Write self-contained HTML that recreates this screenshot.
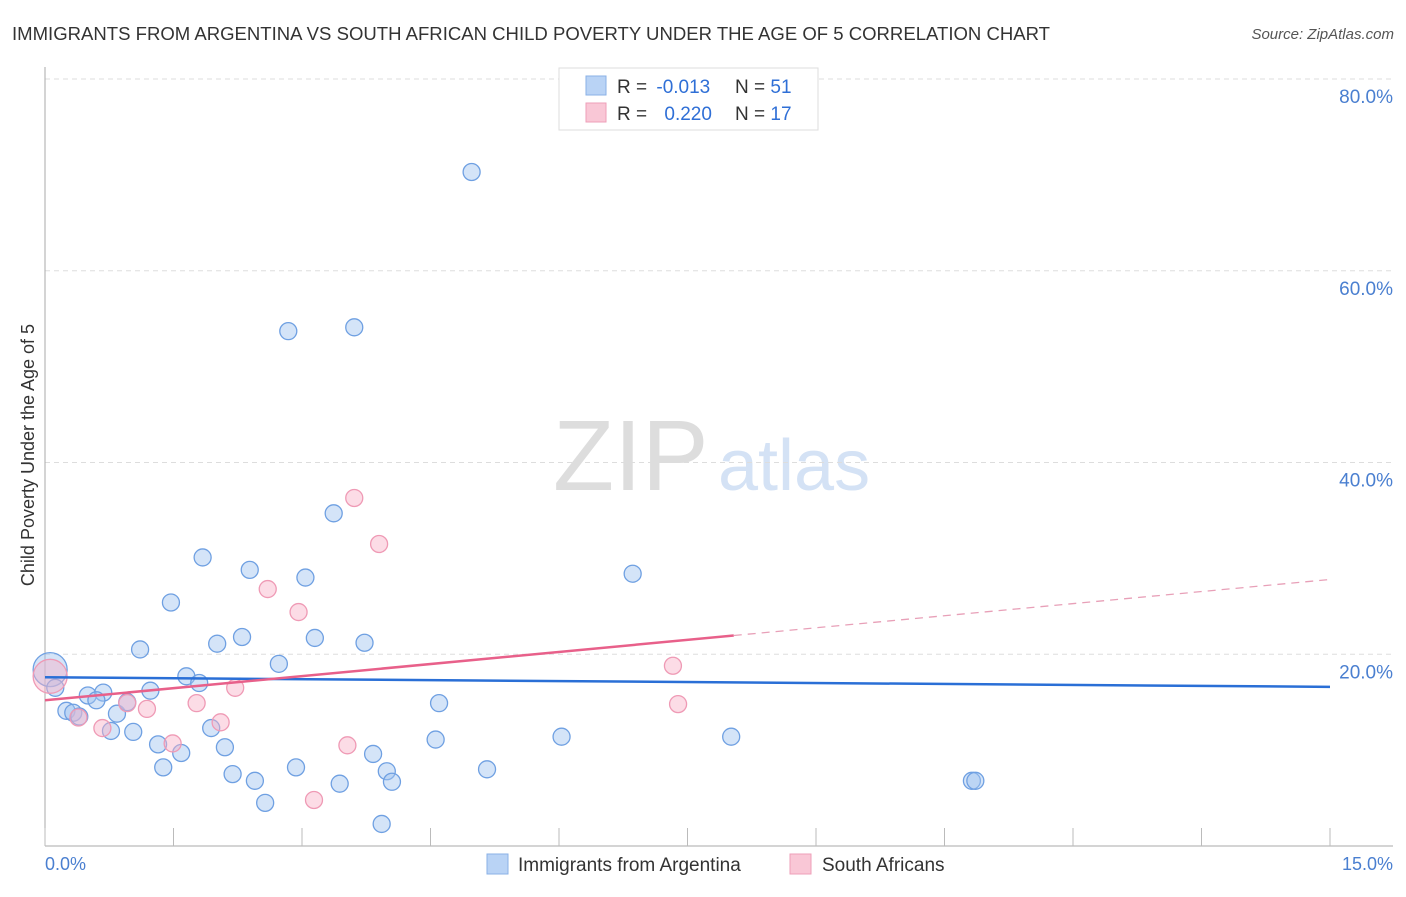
<!DOCTYPE html>
<html><head><meta charset="utf-8"><style>
body{margin:0;background:#fff;font-family:"Liberation Sans",sans-serif;}
svg text{font-family:"Liberation Sans",sans-serif;}
</style></head><body>
<svg id="chart" width="1406" height="892" xmlns="http://www.w3.org/2000/svg">
<text x="12" y="40" font-size="18" fill="#333" textLength="1038" lengthAdjust="spacingAndGlyphs">IMMIGRANTS FROM ARGENTINA VS SOUTH AFRICAN CHILD POVERTY UNDER THE AGE OF 5 CORRELATION CHART</text>
<text x="1394" y="39" font-size="15" fill="#555" font-style="italic" text-anchor="end">Source: ZipAtlas.com</text>
<g>
<text x="553" y="490" font-size="100" fill="#ddd" font-family="Liberation Serif, serif">ZIP</text>
<text x="718" y="490" font-size="72" fill="#d4e2f5">atlas</text>
</g>
<g id="grid"></g>
<g id="axes"></g>
<g id="marks"></g>
<text transform="translate(34,455) rotate(-90)" font-size="18" fill="#333" text-anchor="middle">Child Poverty Under the Age of 5</text>
<text x="45" y="870" font-size="18" fill="#4a7fd0">0.0%</text>
<text x="1393" y="870" font-size="18" fill="#4a7fd0" text-anchor="end">15.0%</text>
<g>
<rect x="559" y="68" width="259" height="62" fill="#fff" stroke="#ddd"/>
<rect x="586" y="76" width="20" height="19" fill="#b9d3f5" stroke="#8ab0e6"/>
<rect x="586" y="103" width="20" height="19" fill="#f9c7d6" stroke="#ee9fb8"/>
<text x="617" y="93" font-size="19" fill="#333">R = <tspan fill="#2f6fd6" dx="4">-0.013</tspan></text>
<text x="735" y="93" font-size="19" fill="#333">N = <tspan fill="#2f6fd6">51</tspan></text>
<text x="617" y="120" font-size="19" fill="#333">R = <tspan fill="#2f6fd6" dx="12">0.220</tspan></text>
<text x="735" y="120" font-size="19" fill="#333">N = <tspan fill="#2f6fd6">17</tspan></text>
</g>
<g>
<rect x="487" y="854" width="21" height="20" fill="#b9d3f5" stroke="#8ab0e6"/>
<text x="518" y="871" font-size="19" fill="#333">Immigrants from Argentina</text>
<rect x="790" y="854" width="21" height="20" fill="#f9c7d6" stroke="#ee9fb8"/>
<text x="822" y="871" font-size="19" fill="#333">South Africans</text>
</g>
</svg>
<script>
const yTicks=[20,40,60,80];
const yTickLabels=["20.0%","40.0%","60.0%","80.0%"];
const xTicks=[0,1.5,3,4.5,6,7.5,9,10.5,12,13.5,15];
const blueX=[4.98,2.84,3.61,3.37,1.84,2.39,3.04,6.86,1.47,2.30,2.01,3.15,3.73,1.11,2.73,1.65,1.80,0.06,0.12,0.50,0.68,0.60,1.23,0.25,0.33,0.40,0.84,0.96,0.77,1.03,1.94,4.60,1.32,2.10,4.56,6.03,8.01,1.59,3.83,1.38,2.19,2.45,2.93,3.99,5.16,3.44,4.05,2.57,10.82,10.86,3.93];
const blueY=[70.3,53.7,54.1,34.7,30.1,28.8,28.0,28.4,25.4,21.8,21.1,21.7,21.2,20.5,19.0,17.7,17.0,18.4,16.5,15.7,16.0,15.2,16.2,14.1,13.9,13.5,13.8,15.0,12.0,11.9,12.3,14.9,10.6,10.3,11.1,11.4,11.4,9.7,9.6,8.2,7.5,6.8,8.2,7.8,8.0,6.5,6.7,4.5,6.8,6.8,2.3];
const pinkX=[3.61,3.90,2.60,2.96,0.06,2.22,0.96,1.77,1.19,0.39,0.67,2.05,1.49,3.53,7.33,7.39,3.14];
const pinkY=[36.3,31.5,26.8,24.4,17.7,16.5,14.9,14.9,14.3,13.4,12.3,12.9,10.7,10.5,18.8,14.8,4.8];
const blueTrend=[17.6,16.6];
const pinkTrend=[15.2,27.8];
const pinkSolidEnd=8.04;
const NS="http://www.w3.org/2000/svg";
const sx=v=>45+v/15*1285;
const sy=v=>846-v*191.75/20;
function mk(t,a,p){const e=document.createElementNS(NS,t);for(const k in a)e.setAttribute(k,a[k]);p.appendChild(e);return e;}
const grid=document.getElementById('grid'),axes=document.getElementById('axes'),marks=document.getElementById('marks');
yTicks.forEach((t,i)=>{
 const l=mk('line',{x1:45,x2:1393,y1:sy(t),y2:sy(t),stroke:'#ddd','stroke-dasharray':'5,4'},grid);
 
 
 const tx=mk('text',{x:1393,y:sy(t)+24,'font-size':19,fill:'#4a7fd0','text-anchor':'end'},grid);
 tx.textContent=yTickLabels[i];
 
 
});
const ya=mk('line',{x1:45,x2:45,y1:67,y2:846,stroke:'#aaa'},axes);


const xa=mk('line',{x1:45,x2:1393,y1:846,y2:846,stroke:'#aaa'},axes);


xTicks.forEach(t=>{
 const l=mk('line',{x1:sx(t),x2:sx(t),y1:828,y2:846,stroke:'#bbb'},axes);
 
 
});
function dot(x,y,i,fill,stroke,name){
 const r=i===17&&name==='point-argentina'||i===4&&name==='point-south-african'?17:8.5;
 const c=mk('circle',{cx:sx(x),cy:sy(y),r:r,fill:fill,stroke:stroke,'stroke-width':1.3},marks);
 
 
}
blueX.forEach((x,i)=>dot(x,blueY[i],i,'rgba(160,196,240,0.45)','#6fa0e2','point-argentina'));
pinkX.forEach((x,i)=>dot(x,pinkY[i],i,'rgba(248,178,200,0.45)','#ef9ab5','point-south-african'));
const bl=mk('line',{x1:sx(0),y1:sy(blueTrend[0]),x2:sx(15),y2:sy(blueTrend[1]),stroke:'#2a6fd6','stroke-width':2.5},marks);


const pe=pinkTrend[0]+(pinkTrend[1]-pinkTrend[0])*pinkSolidEnd/15;
const pl=mk('line',{x1:sx(0),y1:sy(pinkTrend[0]),x2:sx(pinkSolidEnd),y2:sy(pe),stroke:'#e8608a','stroke-width':2.5},marks);


const pd=mk('line',{x1:sx(pinkSolidEnd),y1:sy(pe),x2:sx(15),y2:sy(pinkTrend[1]),stroke:'#e8a0b8','stroke-width':1.3,'stroke-dasharray':'8,6'},marks);


</script>
</body></html>
